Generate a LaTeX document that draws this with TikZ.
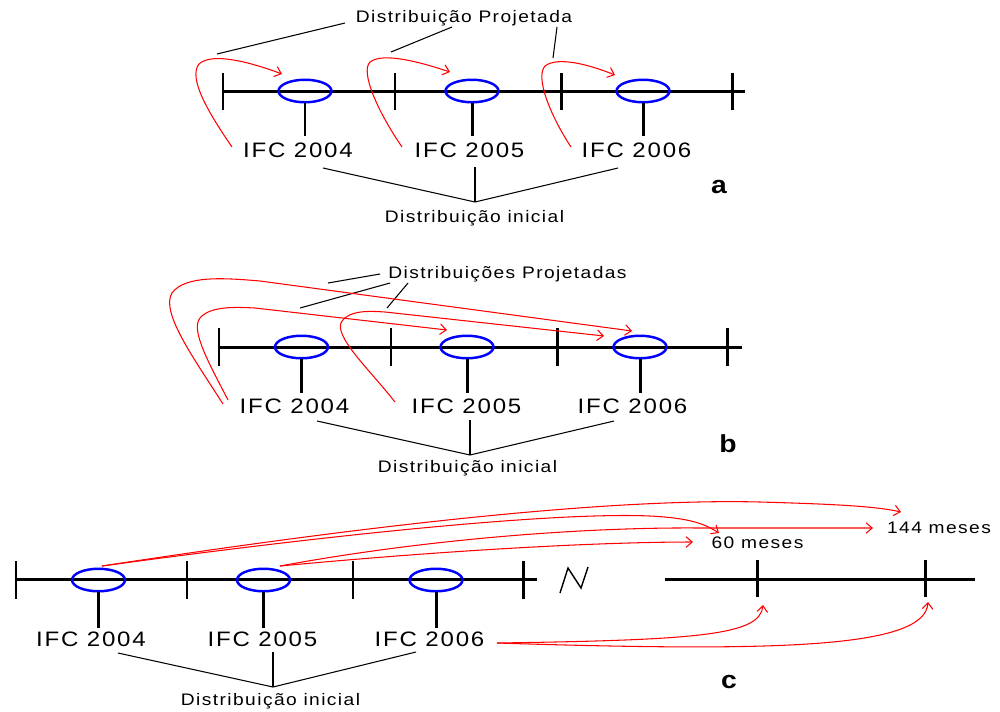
\documentclass[tikz,border=0pt]{standalone}
\usepackage{fontspec}
\setmainfont{Liberation Sans}
\newfontfamily\rf[FakeStretch=1.15,LetterSpace=8.5]{Liberation Sans}
\usetikzlibrary{shapes.geometric,arrows.meta}
\begin{document}
\begin{tikzpicture}[x=0.02cm,y=-0.02cm,
  ax/.style={line width=1.7pt},
  tk/.style={line width=1.7pt},
  ifc/.style={ellipse,draw=blue,line width=1.4pt,minimum width=1.06cm,minimum height=0.45cm,inner sep=0pt},
  stm/.style={line width=1.7pt},
  bigt/.style={font=\rf\fontsize{11.9}{14}\selectfont,inner sep=0pt,anchor=base},
  smallt/.style={font=\rf\fontsize{9.5}{11}\selectfont,inner sep=0pt,anchor=base},
  lbl/.style={font=\rf\bfseries\fontsize{14}{16}\selectfont,inner sep=0pt,anchor=base},
  lead/.style={line width=0.6pt},
  proj/.style={red,line width=0.6pt,-{Straight Barb[length=3.5pt,width=6pt]}}]
\useasboundingbox (0,0) rectangle (1000,711);

% ---------------- panel a ----------------
\draw[ax] (223,91) -- (745,91);
\foreach \x in {223,395,561,732} \draw[tk] (\x,73) -- (\x,110);
\node[ifc] (a1) at (305,91) {};
\node[ifc] (a2) at (472,91) {};
\node[ifc] (a3) at (643,91) {};
\draw[stm] (a1.south) -- ++(0,33);
\draw[stm] (a2.south) -- ++(0,33);
\draw[stm] (a3.south) -- ++(0,33);
\node[bigt] (ta1) at (298,157) {IFC 2004};
\node[bigt] (ta2) at (469.5,157) {IFC 2005};
\node[bigt] (ta3) at (636.5,157) {IFC 2006};
\node[lbl] (la) at (719,193) {a};
\node[smallt] (pa) at (464,22) {Distribuição Projetada};
\coordinate (pa1) at (217,54);
\coordinate (pa2) at (391,52);
\coordinate (pa3) at (553,58);
\draw[lead] (345,23) -- (pa1);
\draw[lead] (452,27) -- (pa2);
\draw[lead] (557,27) -- (pa3);
\node[smallt] (ia) at (474.5,222) {Distribuição inicial};
\coordinate (ja) at (475,202);
\draw[lead] (323,168) -- (ja) -- (618,168);
\draw[lead] (475,167) -- (ja);
% projections a
\draw[proj] (232,147) .. controls (208,112) and (188,78) .. (199,64) .. controls (212,52) and (250,62) .. (282,74);
\draw[proj] (402,147) .. controls (378,112) and (360,72) .. (370,62) .. controls (383,52) and (420,62) .. (450,72);
\draw[proj] (571,147) .. controls (550,115) and (535,77) .. (545,66) .. controls (558,56) and (590,65) .. (615,75);

% ---------------- panel b ----------------
\draw[ax] (219,347) -- (742,347);
\foreach \x in {219,391,557,727} \draw[tk] (\x,328) -- (\x,366);
\node[ifc] (b1) at (301.5,347) {};
\node[ifc] (b2) at (467,347) {};
\node[ifc] (b3) at (640,347) {};
\draw[stm] (b1.south) -- ++(0,34);
\draw[stm] (b2.south) -- ++(0,34);
\draw[stm] (b3.south) -- ++(0,34);
\node[bigt] (tb1) at (294.5,413) {IFC 2004};
\node[bigt] (tb2) at (466.5,413) {IFC 2005};
\node[bigt] (tb3) at (632.5,413) {IFC 2006};
\node[lbl] (lb) at (728,452) {b};
\node[smallt] (pb) at (507.5,278) {Distribuições Projetadas};
\coordinate (pb1) at (328,283);
\coordinate (pb2) at (300,308);
\coordinate (pb3) at (387,308);
\draw[lead] (380,274) -- (pb1);
\draw[lead] (390,283) -- (pb2);
\draw[lead] (408,283) -- (pb3);
\node[smallt] (ib) at (467.5,472) {Distribuição inicial};
\coordinate (jb) at (470,455);
\draw[lead] (317,421) -- (jb) -- (614,421);
\draw[lead] (470,420) -- (jb);
% projections b
\draw[proj] (223,404) .. controls (195,360) and (160,312) .. (172,293) .. controls (185,275) and (225,278) .. (260,281) -- (632,331);
\draw[proj] (228,400) .. controls (210,365) and (190,330) .. (200,318) .. controls (210,306) and (235,307) .. (255,308) -- (447,330);
\draw[proj] (395,402) .. controls (370,370) and (332,335) .. (342,321) .. controls (350,310) and (370,311) .. (385,312) -- (604,336);

% ---------------- panel c ----------------
\draw[ax] (16,579) -- (537,579);
\foreach \x in {16,187,353,523} \draw[tk] (\x,561) -- (\x,599);
\node[ifc] (c1) at (98.5,580) {};
\node[ifc] (c2) at (263.5,580) {};
\node[ifc] (c3) at (436,580) {};
\draw[stm] (c1.south) -- ++(0,36);
\draw[stm] (c2.south) -- ++(0,36);
\draw[stm] (c3.south) -- ++(0,36);
\node[bigt] (tc1) at (91,646) {IFC 2004};
\node[bigt] (tc2) at (262.5,646) {IFC 2005};
\node[bigt] (tc3) at (429.5,646) {IFC 2006};
\node[lbl] (lc) at (729,688) {c};
\node[smallt] (ic) at (270.5,705) {Distribuição inicial};
\coordinate (jc) at (273,687);
\draw[lead] (118,653) -- (jc) -- (416,652);
\draw[lead] (273,652) -- (jc);
% break symbol
\draw[line width=0.8pt] (560,593) -- (568,568) -- (581,588) -- (588,567);
% far axis
\draw[ax] (665,579) -- (975,579);
\foreach \x in {757,925} \draw[tk] (\x,560) -- (\x,597);
\node[smallt] (m60) at (757.5,548) {60 meses};
\node[smallt] (m144) at (939,533) {144 meses};
% projections c
\coordinate (s1) at (102,566);
\coordinate (s2) at (280,566);
\coordinate (s3) at (497,643);
\coordinate (e1) at (901,512);
\coordinate (e2) at (719,533);
\coordinate (e3) at (873,528);
\coordinate (e4) at (693,542);
\coordinate (e5) at (763,605);
\coordinate (e6) at (928,602);
\draw[proj] (s1) .. controls (350,528) and (600,498) .. (760,502) .. controls (830,504) and (875,506) .. (e1);
\draw[proj] (s1) .. controls (350,532) and (560,512) .. (650,516) .. controls (690,518) and (705,524) .. (e2);
\draw[proj] (s2) .. controls (420,540) and (580,527) .. (700,528) -- (e3);
\draw[proj] (s2) .. controls (450,550) and (600,542) .. (e4);
\draw[proj] (s3) .. controls (700,640) and (760,635) .. (e5);
\draw[proj] (s3) .. controls (780,652) and (925,648) .. (e6);
\end{tikzpicture}
\end{document}
